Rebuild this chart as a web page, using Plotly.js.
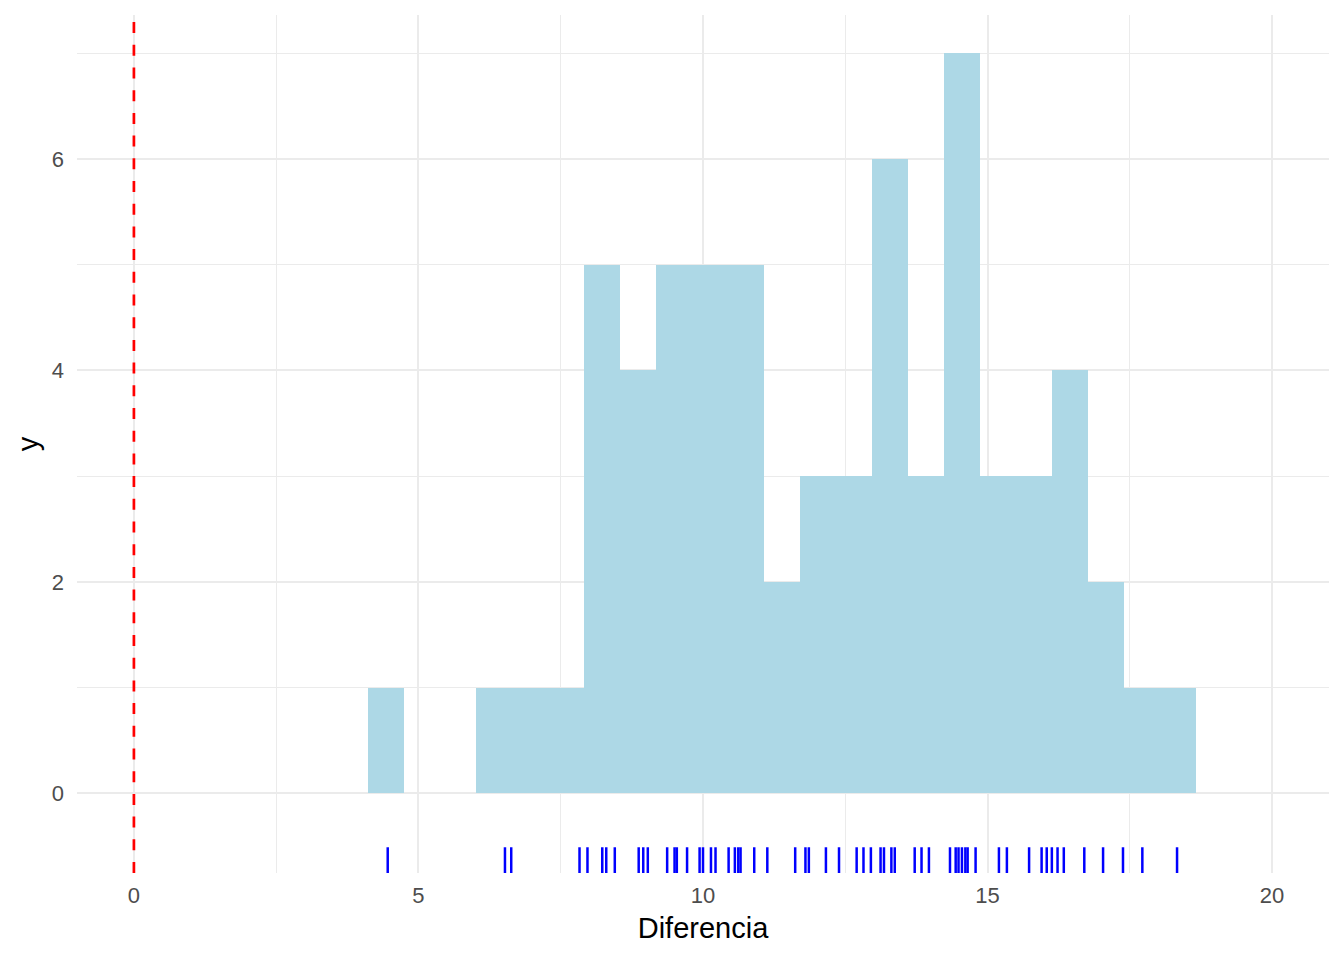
<!DOCTYPE html>
<html><head><meta charset="utf-8">
<script src="https://cdn.plot.ly/plotly-3.0.1.min.js"></script>
<style>html,body{margin:0;padding:0;background:#fff}</style>
</head><body><div id="chart" style="width:1344px;height:960px"></div>
<script>
// Histogram bins (ggplot-style, 23 bins)
const binStart = 4.112;
const binWidth = 0.6327;
const binCounts = [1,0,0,1,1,1,5,4,5,5,5,2,3,3,6,3,7,3,3,4,2,1,1];
// Rug observations (Diferencia)
const rugValues = [4.46,6.52,6.63,7.83,7.97,8.23,8.30,8.45,8.87,8.95,9.03,9.37,9.50,9.54,9.72,9.94,10.00,
  10.14,10.22,10.45,10.56,10.62,10.66,10.90,11.13,11.62,11.80,11.86,12.16,12.39,12.70,12.82,12.95,
  13.12,13.18,13.31,13.37,13.72,13.84,13.97,14.34,14.44,14.49,14.55,14.61,14.65,14.79,15.20,15.34,
  15.73,15.95,16.04,16.13,16.23,16.34,16.70,17.03,17.38,17.72,18.33];
const vlineX = 0;
const xTickVals = [0,5,10,15,20];
const yTickVals = [0,2,4,6];
const xRange = [-1, 21];
const yRange = [-0.754, 7.363];

const binCenters = binCounts.map((_, i) => binStart + (i + 0.5) * binWidth);
const rugLen = 0.03 * (yRange[1] - yRange[0]);
const rugX = [], rugY = [];
rugValues.forEach(v => { rugX.push(v, v, null); rugY.push(yRange[0], yRange[0] + rugLen, null); });

const traces = [
  {type:'bar', x: binCenters, y: binCounts, width: binCounts.map(() => binWidth),
   marker:{color:'#ADD8E6', line:{width:0}}, hoverinfo:'x+y', showlegend:false},
  {type:'scatter', mode:'lines', x: rugX, y: rugY, line:{color:'#0000FF', width:2.5},
   hoverinfo:'skip', showlegend:false, cliponaxis:true}
];

const tickFont = {family:'Liberation Sans, Arial, sans-serif', size:22, color:'#4D4D4D'};
const titleFont = {family:'Liberation Sans, Arial, sans-serif', size:29, color:'#000000'};

const layout = {
  width:1344, height:960,
  margin:{l:77, r:15, t:15, b:87},
  paper_bgcolor:'#FFFFFF', plot_bgcolor:'#FFFFFF',
  bargap:0,
  showlegend:false,
  xaxis:{range:xRange, tickvals:xTickVals, ticktext:xTickVals.map(String), tickfont:tickFont,
    showgrid:true, gridcolor:'#EBEBEB', gridwidth:2, zeroline:false, showline:false, ticks:'',
    ticklabelstandoff:7,
    minor:{dtick:2.5, tick0:0, showgrid:true, gridcolor:'#EBEBEB', gridwidth:1},
    title:{text:'Diferencia', font:titleFont, standoff:10}, automargin:false},
  yaxis:{range:yRange, tickvals:yTickVals, ticktext:yTickVals.map(String), tickfont:tickFont,
    showgrid:true, gridcolor:'#EBEBEB', gridwidth:2, zeroline:false, showline:false, ticks:'',
    ticklabelstandoff:12,
    minor:{dtick:1, tick0:0, showgrid:true, gridcolor:'#EBEBEB', gridwidth:1},
    title:{text:'y', font:titleFont, standoff:4}, automargin:false},
  shapes:[{type:'line', xref:'x', yref:'paper', x0:vlineX, x1:vlineX, y0:0, y1:1,
    line:{color:'#FF0000', width:2.7, dash:'11px,11.7px'}, layer:'above'}]
};

Plotly.newPlot('chart', traces, layout, {displayModeBar:false, staticPlot:true});
</script></body></html>
